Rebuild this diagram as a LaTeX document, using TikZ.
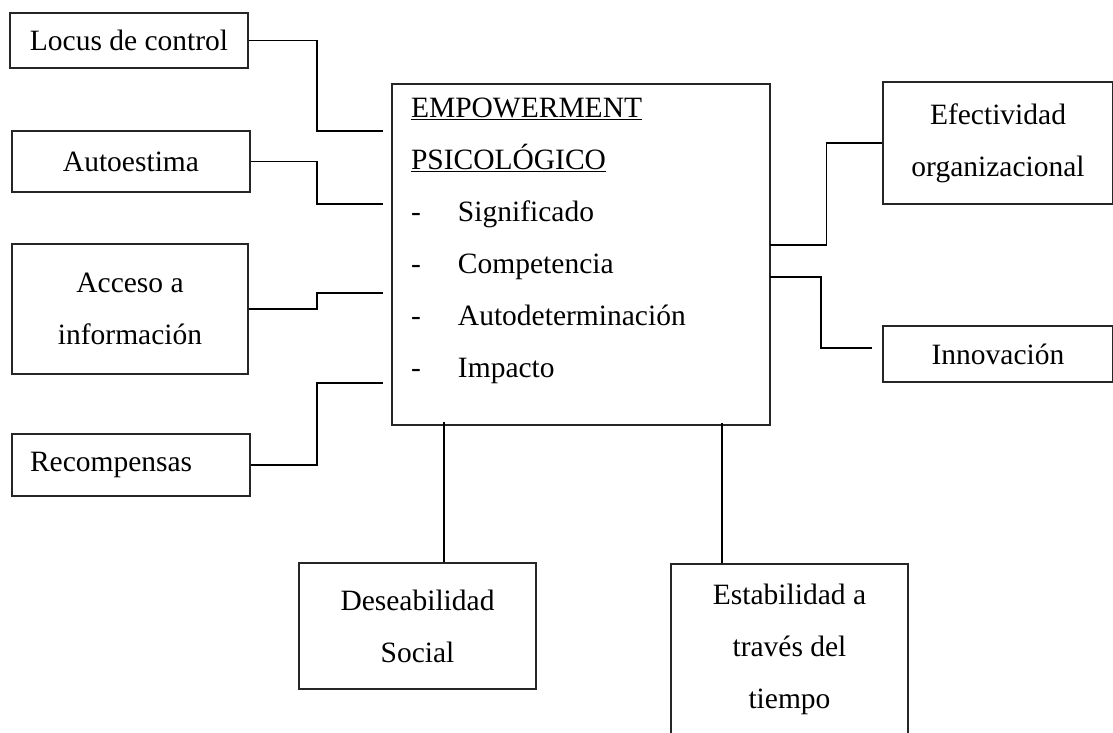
\documentclass[tikz,border=0pt]{standalone}
\usepackage{fontspec}
\setmainfont{Liberation Serif}
\begin{document}
\begin{tikzpicture}[x=1pt,y=1pt]
        \tikzstyle{block} = [rectangle, draw=black!85, line width=1.4, text=black, align=center, font=\fontsize{29.5}{52}\selectfont, inner sep=0]
        \tikzstyle{line} = [draw=black, line width=1.6]
        \useasboundingbox (0,0) rectangle (1113,733);
        \clip (0,0) rectangle (1113,733);
        % left side
        \node[block, minimum width=238, minimum height=55] (locus) at (129,692.5) {Locus de control};
        \node[block, minimum width=238, minimum height=61] (autoestima) at (131,571.5) {Autoestima};
        \node[block, minimum width=236, minimum height=130] (acceso) at (130,424) {Acceso a\\ información};
        \node[block, minimum width=238, minimum height=62, text width=202, align=left] (recompensas) at (131,268) {Recompensas};
        % centre
        \node[block, minimum width=378, minimum height=341, text width=340, align=left] (empower) at (581,478.5) {\underline{EMPOWERMENT}\\ \underline{PSICOLÓGICO}\\ \makebox[47pt][l]{-}Significado\\ \makebox[47pt][l]{-}Competencia\\ \makebox[47pt][l]{-}Autodeterminación\\ \makebox[47pt][l]{-}Impacto\rule[-33pt]{0pt}{1pt}};
        % right side
        \node[block, minimum width=230, minimum height=122] (efectividad) at (998,590) {Efectividad\\ organizacional};
        \node[block, minimum width=230, minimum height=56] (innovacion) at (998,379) {Innovación};
        % bottom
        \node[block, minimum width=237, minimum height=126] (deseab) at (417.5,107) {Deseabilidad\\ Social};
        \node[block, minimum width=237, minimum height=170] (estab) at (789.5,84) {Estabilidad a\\ través del\\ tiempo};
        \coordinate (l1) at (383,602);
        \coordinate (l2) at (383,529);
        \coordinate (l3) at (383,440);
        \coordinate (l4) at (383,350);
        \coordinate (r1) at (770,488);
        \coordinate (r2) at (770,456);
        \coordinate (r4) at (872,385);
        \draw[line] (locus.east) -- ++(68,0) |- (l1);
        \draw[line] (autoestima.east) -- ++(66,0) |- (l2);
        \draw[line] (acceso.east) -- ++(68,0) |- (l3);
        \draw[line] (recompensas.east) -- ++(66,0) |- (l4);
        \draw[line] (efectividad.west) -- ++(-56,0) |- (r1);
        \draw[line] (r2) -- ++(51,0) |- (r4);
        \draw[line] ([xshift=26.5]deseab.north) -- ++(0,140);
        \draw[line] ([xshift=-67.5]estab.north) -- ++(0,140);
\end{tikzpicture}
\end{document}
